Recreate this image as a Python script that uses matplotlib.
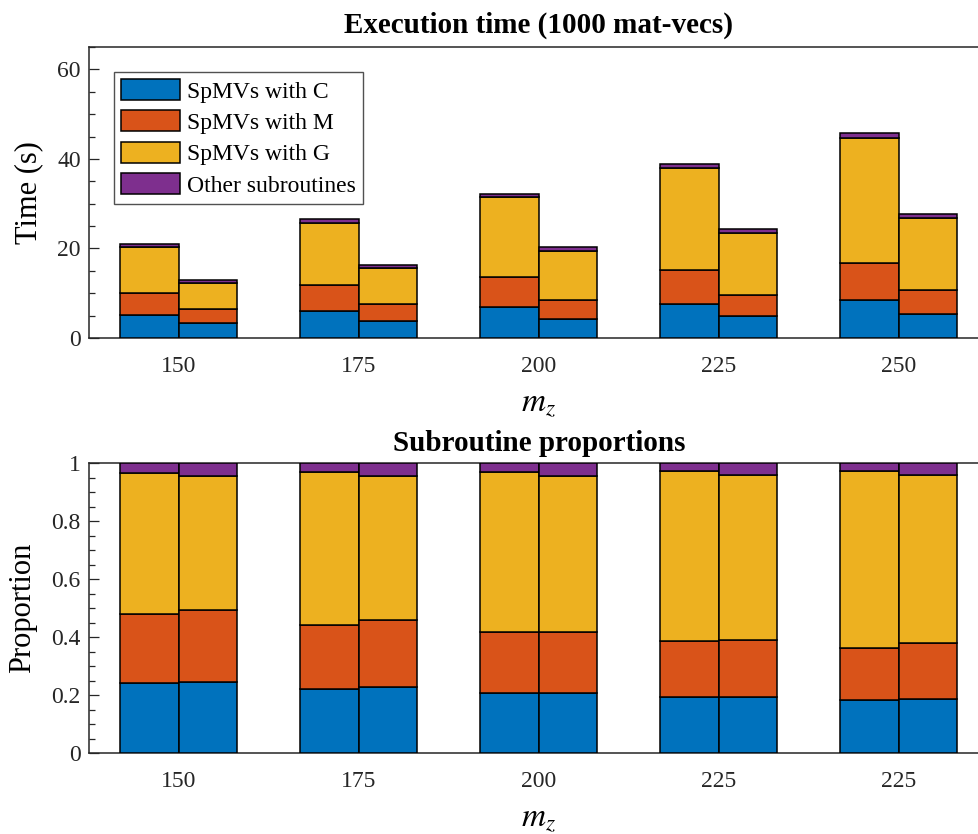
import numpy as np
import matplotlib
matplotlib.use("Agg")
import matplotlib.pyplot as plt
from matplotlib.ticker import MultipleLocator, FormatStrFormatter

plt.rcParams['font.family'] = ['Liberation Serif', 'DejaVu Serif']
plt.rcParams['mathtext.fontset'] = 'stix'

# ---- data ----
labels_top = ['150', '175', '200', '225', '250']
labels_bot = ['150', '175', '200', '225', '225']
series = ['SpMVs with C', 'SpMVs with M', 'SpMVs with G', 'Other subroutines']
colors = ['#0072BD', '#D95319', '#EDB120', '#7E2F8E']

# execution time (s), first bar of each group
time_a_C = [5.15, 6.0, 6.9, 7.7, 8.5]
time_a_M = [4.95, 5.9, 6.7, 7.5, 8.3]
time_a_G = [10.2, 13.9, 17.8, 22.8, 27.9]
time_a_O = [0.7, 0.8, 0.8, 0.9, 1.0]
# execution time (s), second bar of each group
time_b_C = [3.3, 3.8, 4.25, 4.85, 5.3]
time_b_M = [3.2, 3.7, 4.35, 4.7, 5.45]
time_b_G = [5.8, 8.1, 10.9, 13.85, 16.05]
time_b_O = [0.7, 0.7, 0.8, 0.9, 1.0]

# proportions, first bar
prop_a_C = [0.240, 0.222, 0.208, 0.193, 0.182]
prop_a_M = [0.239, 0.219, 0.208, 0.192, 0.180]
prop_a_G = [0.485, 0.528, 0.554, 0.587, 0.611]
prop_a_O = [0.036, 0.031, 0.030, 0.028, 0.027]
# proportions, second bar
prop_b_C = [0.244, 0.2265, 0.206, 0.193, 0.187]
prop_b_M = [0.248, 0.231, 0.210, 0.197, 0.193]
prop_b_G = [0.462, 0.4965, 0.539, 0.569, 0.579]
prop_b_O = [0.046, 0.046, 0.045, 0.041, 0.041]

fig = plt.figure(figsize=(9.79, 8.34), dpi=100)
ax1 = fig.add_axes([0.0909, 0.5947, 0.9193, 0.3489])
ax2 = fig.add_axes([0.0909, 0.0971, 0.9193, 0.3477])

x = np.arange(1, 6)
w = 0.325
axcol = '#262626'

def stack(ax, xpos, comps, label=True):
    bottom = np.zeros(len(xpos))
    handles = []
    for i, c in enumerate(comps):
        c = np.asarray(c)
        h = ax.bar(xpos, c, w, bottom=bottom, color=colors[i], edgecolor='black',
                   linewidth=1.1, label=series[i] if label else None, zorder=3)
        handles.append(h)
        bottom = bottom + c
    return handles

hs = stack(ax1, x - w / 2, [time_a_C, time_a_M, time_a_G, time_a_O])
stack(ax1, x + w / 2, [time_b_C, time_b_M, time_b_G, time_b_O], label=False)
stack(ax2, x - w / 2, [prop_a_C, prop_a_M, prop_a_G, prop_a_O], label=False)
stack(ax2, x + w / 2, [prop_b_C, prop_b_M, prop_b_G, prop_b_O], label=False)

for ax, labs in ((ax1, labels_top), (ax2, labels_bot)):
    ax.set_xlim(0.5, 5.5)
    ax.set_xticks(x)
    ax.set_xticklabels(labs)
    ax.tick_params(axis='x', length=0, pad=13, labelsize=17, colors=axcol)
    ax.tick_params(axis='y', which='major', direction='in', length=7, width=0.9,
                   left=True, right=True, labelsize=17, colors=axcol, pad=6)
    ax.tick_params(axis='y', which='minor', direction='in', length=4, width=0.9,
                   left=True, right=True, colors=axcol)
    for s in ax.spines.values():
        s.set_color(axcol)
        s.set_linewidth(1.1)
    ax.set_xlabel('$m_z$', fontsize=24, labelpad=8)

ax1.set_ylim(0, 65)
ax1.yaxis.set_major_locator(MultipleLocator(20))
ax1.yaxis.set_minor_locator(MultipleLocator(5))
ax1.set_ylabel('Time (s)', fontsize=22, labelpad=10)
ax1.set_title('Execution time (1000 mat-vecs)', fontsize=21, fontweight='bold', pad=10)

ax2.set_ylim(0, 1)
ax2.yaxis.set_major_locator(MultipleLocator(0.2))
ax2.yaxis.set_minor_locator(MultipleLocator(0.05))
ax2.yaxis.set_major_formatter(FormatStrFormatter('%g'))
ax2.set_ylabel('Proportion', fontsize=22, labelpad=10)
ax2.set_title('Subroutine proportions', fontsize=21, fontweight='bold', pad=9)

leg = ax1.legend(handles=[h[0] for h in hs], labels=series, loc='upper left',
                 bbox_to_anchor=(0.028, 0.915), fontsize=17, frameon=True,
                 fancybox=False, edgecolor=axcol, handlelength=2.5, handleheight=1.0,
                 handletextpad=0.3, borderpad=0.3, labelspacing=0.33, borderaxespad=0)
leg.get_frame().set_linewidth(1.0)

fig.savefig('out.png', dpi=100)
